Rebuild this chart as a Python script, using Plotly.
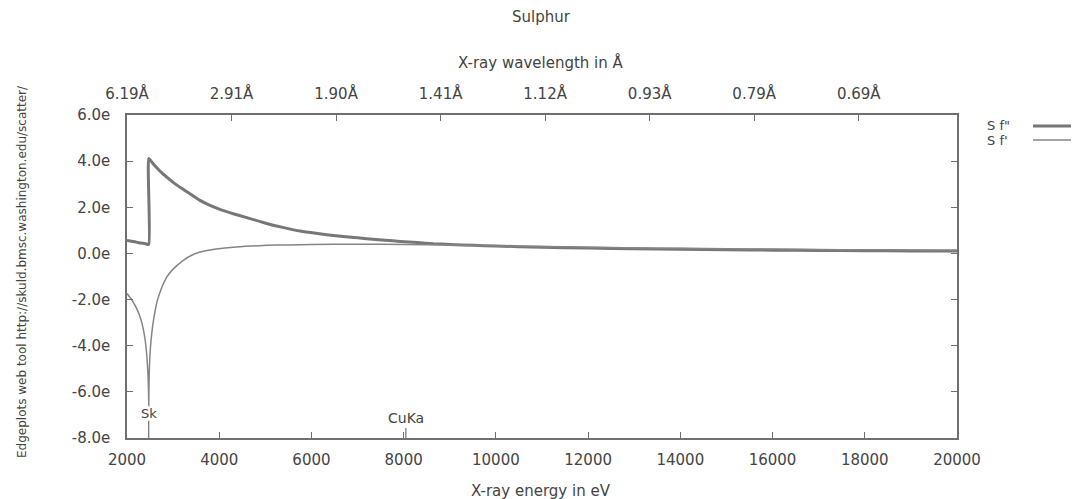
import plotly.graph_objects as go

# ---- data ----
fpp_energy = [2000, 2100, 2200, 2300, 2400, 2471, 2472, 2550, 2650, 2750, 2861, 3000, 3200,
              3400, 3583, 3800, 4000, 4306, 4600, 5030, 5400, 5753, 6100, 6475, 6800,
              7199, 7600, 7922, 8300, 8644, 9000, 9500, 10000, 11000, 12000, 13000,
              14000, 15000, 16000, 17000, 18000, 19000, 20000]
fpp_value = [0.56, 0.53, 0.49, 0.45, 0.42, 0.39, 4.12, 3.93, 3.70, 3.50, 3.31, 3.08, 2.80,
             2.54, 2.30, 2.08, 1.92, 1.72, 1.55, 1.30, 1.12, 0.97, 0.87, 0.78, 0.71,
             0.64, 0.57, 0.52, 0.47, 0.42, 0.39, 0.35, 0.32, 0.27, 0.23, 0.20,
             0.18, 0.16, 0.14, 0.13, 0.12, 0.11, 0.10]

fp_energy = [2000, 2100, 2200, 2300, 2350, 2400, 2430, 2450, 2462, 2468, 2472, 2476, 2482,
             2495, 2520, 2560, 2600, 2650, 2750, 2861, 3000, 3222, 3400, 3583, 3900,
             4306, 4700, 5030, 5500, 6000, 7000, 8000, 9000, 10000, 11000, 12000,
             13000, 14000, 15000, 16000, 17000, 18000, 19000, 20000]
fp_value = [-1.74, -2.00, -2.35, -2.85, -3.25, -3.85, -4.45, -5.05, -5.6, -6.1, -6.6, -5.9,
            -5.2, -4.5, -3.8, -3.1, -2.6, -2.1, -1.50, -1.03, -0.68, -0.30, -0.08, 0.06,
            0.18, 0.27, 0.32, 0.35, 0.37, 0.39, 0.40, 0.39, 0.36, 0.33, 0.30, 0.27,
            0.24, 0.22, 0.20, 0.19, 0.17, 0.16, 0.15, 0.14]

x_ticks = [2000, 4000, 6000, 8000, 10000, 12000, 14000, 16000, 18000, 20000]
y_ticks = [6, 4, 2, 0, -2, -4, -6, -8]
y_tick_labels = ["6.0e", "4.0e", "2.0e", "0.0e", "-2.0e", "-4.0e", "-6.0e", "-8.0e"]
top_tick_energy = [2000, 4267, 6534, 8801, 11068, 13335, 15602, 17869]
top_tick_labels = ["6.19Å", "2.91Å", "1.90Å", "1.41Å", "1.12Å", "0.93Å", "0.79Å", "0.69Å"]

marker_energy = [2472, 8048]
marker_labels = ["Sk", "CuKa"]
marker_label_y = [-6.95, -7.57]

series_names = ["S f\"", "S f'"]

FONT = "DejaVu Sans"
TXT = "#444444"
AX = "#707070"
FS = 15

# plot-area geometry in page pixels (used to place paper-referenced texts)
PL, PR, PT, PB = 127, 957, 115, 438


def px(xp):
    return (xp - PL) / (PR - PL)


def py(yp):
    return (PB - yp) / (PB - PT)


fig = go.Figure()
fig.add_trace(go.Scatter(x=fpp_energy, y=fpp_value, mode="lines", name=series_names[0],
                         line=dict(color="#777777", width=3, shape="spline", smoothing=0.5),
                         showlegend=False))
fig.add_trace(go.Scatter(x=fp_energy, y=fp_value, mode="lines", name=series_names[1],
                         line=dict(color="#858585", width=1.5, shape="spline", smoothing=0.5),
                         showlegend=False))
# invisible trace to activate the top axis
fig.add_trace(go.Scatter(x=[x_ticks[0], x_ticks[-1]], y=[y_ticks[0], y_ticks[0]], xaxis="x2",
                         mode="lines", line=dict(width=0), hoverinfo="skip", showlegend=False))

# edge / reference markers
for e, lab, ly in zip(marker_energy, marker_labels, marker_label_y):
    fig.add_shape(type="line", xref="x", yref="y", x0=e, x1=e,
                  y0=ly - 0.3 if lab == "Sk" else ly, y1=y_ticks[-1] - 0.2,
                  line=dict(color="#555555", width=1))
    fig.add_annotation(x=e, y=ly, xref="x", yref="y", text=lab, showarrow=False,
                       font=dict(family=FONT, size=13 if lab == "Sk" else 14, color=TXT),
                       yanchor="bottom" if lab == "CuKa" else "middle")

# legend drawn like gnuplot's key
for i, (nm, w) in enumerate(zip(series_names, [3, 1.5])):
    yy = 126 + 14 * i
    fig.add_annotation(x=px(985), y=py(yy), xref="paper", yref="paper", text=nm, showarrow=False,
                       xanchor="left", yanchor="middle", font=dict(family=FONT, size=13, color=TXT))
    fig.add_shape(type="line", xref="paper", yref="paper", x0=px(1033), x1=px(1079), y0=py(yy), y1=py(yy),
                  line=dict(color="#777777" if i == 0 else "#858585", width=w))

# texts
fig.add_annotation(x=px(541), y=py(17), xref="paper", yref="paper", text="Sulphur",
                   showarrow=False, font=dict(family=FONT, size=FS, color=TXT), yanchor="middle")
fig.add_annotation(x=px(541), y=py(62), xref="paper", yref="paper", text="X-ray wavelength in Å",
                   showarrow=False, font=dict(family=FONT, size=FS, color=TXT), yanchor="middle")
fig.add_annotation(x=px(541), y=py(491), xref="paper", yref="paper", text="X-ray energy in eV",
                   showarrow=False, font=dict(family=FONT, size=FS, color=TXT), yanchor="middle")
fig.add_annotation(x=px(22), y=py(272), xref="paper", yref="paper",
                   text="Edgeplots web tool http://skuld.bmsc.washington.edu/scatter/",
                   showarrow=False, textangle=-90, font=dict(family=FONT, size=12, color=TXT),
                   xanchor="center", yanchor="middle")

common = dict(showgrid=False, zeroline=False, showline=True, linecolor=AX, linewidth=1.5,
              ticks="inside", ticklen=6, tickcolor=AX, tickwidth=1,
              tickfont=dict(family=FONT, size=FS, color=TXT))
# the page body has an 8px margin, so the figure is 8px smaller than the window
fig.update_layout(
    width=1071, height=491,
    margin=dict(l=PL - 8, r=1079 - PR, t=PT - 8, b=499 - PB),
    paper_bgcolor="white", plot_bgcolor="white",
    xaxis=dict(range=[x_ticks[0], x_ticks[-1]], tickmode="array", tickvals=x_ticks,
               ticktext=[str(v) for v in x_ticks], ticklabelstandoff=7, **common),
    xaxis2=dict(range=[x_ticks[0], x_ticks[-1]], overlaying="x", side="top", tickmode="array",
                tickvals=top_tick_energy, ticktext=top_tick_labels, ticklabelstandoff=8, **common),
    yaxis=dict(range=[y_ticks[-1], y_ticks[0]], tickmode="array", tickvals=y_ticks,
               ticktext=y_tick_labels, mirror="ticks", ticklabelstandoff=12, **common),
    showlegend=False,
)

fig.write_html("out.html")
